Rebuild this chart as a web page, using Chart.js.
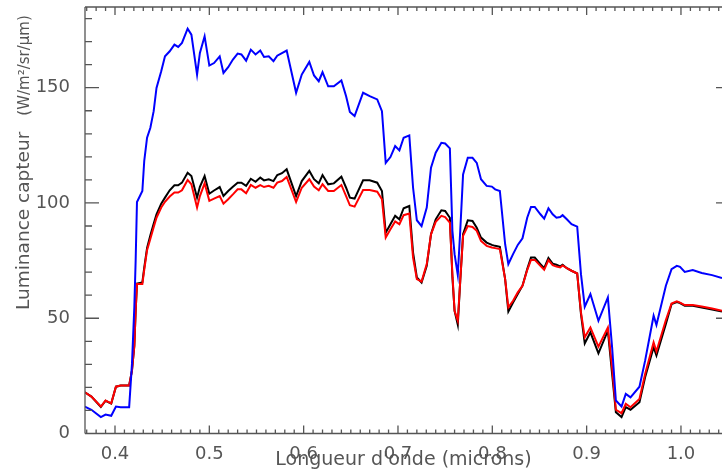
<!DOCTYPE html>
<html>
<head>
<meta charset="utf-8">
<title>Luminance capteur</title>
<script src="https://cdn.jsdelivr.net/npm/chart.js@4.4.1/dist/chart.umd.min.js"></script>
<style>
    body { margin: 0; background: #fff; overflow: hidden; }
    canvas { display: block; }
</style>
</head>
<body>
<canvas id="spectre" width="722" height="475"></canvas>
<script>
// Wavelengths (microns)
const longueurs = [
    0.368, 0.375, 0.385, 0.390, 0.396, 0.401, 0.406, 0.415, 0.418, 0.4205,
    0.4219, 0.4233, 0.429, 0.431, 0.434, 0.4375, 0.441, 0.444, 0.449, 0.453,
    0.458, 0.463, 0.467, 0.471, 0.477, 0.481, 0.487, 0.490, 0.495, 0.500,
    0.505, 0.511, 0.515, 0.520, 0.525, 0.530, 0.534, 0.539, 0.544, 0.549,
    0.554, 0.558, 0.563, 0.568, 0.572, 0.577, 0.582, 0.592, 0.598, 0.606,
    0.611, 0.616, 0.620, 0.626, 0.632, 0.640, 0.645, 0.649, 0.654, 0.663,
    0.670, 0.678, 0.683, 0.687, 0.692, 0.697, 0.7015, 0.706, 0.712, 0.716,
    0.720, 0.725, 0.7305, 0.735, 0.740, 0.746, 0.750, 0.755, 0.7577, 0.760,
    0.7634, 0.766, 0.769, 0.774, 0.779, 0.7835, 0.788, 0.794, 0.7995, 0.803,
    0.808, 0.8136, 0.817, 0.822, 0.827, 0.832, 0.837, 0.841, 0.845, 0.851,
    0.855, 0.8595, 0.864, 0.868, 0.872, 0.8745, 0.879, 0.884, 0.890, 0.894,
    0.898, 0.904, 0.9125, 0.9225, 0.927, 0.931, 0.937, 0.9415, 0.9465, 0.956,
    0.962, 0.971, 0.974, 0.984, 0.990, 0.9956, 0.999, 1.004, 1.0125, 1.022,
    1.033, 1.0435
];

// Sensor radiance, W/m2/sr/um
const lumBleu = [
    11.7, 10.3, 7.1, 8.2, 7.7, 11.7, 11.4, 11.4, 30.2, 55.0,
    75.0, 100.4, 105.2, 118.2, 128.3, 132.6, 139.8, 149.9, 157.1, 163.6,
    165.8, 168.7, 167.7, 169.4, 175.6, 173.0, 155.7, 165.1, 172.3, 159.6,
    160.7, 163.6, 156.4, 158.9, 162.2, 164.8, 164.4, 161.7, 166.5, 164.4,
    166.1, 163.3, 163.6, 161.5, 163.9, 165.0, 166.1, 147.8, 155.7, 161.2,
    155.3, 152.8, 156.7, 150.6, 150.6, 153.1, 146.3, 139.5, 137.7, 147.8,
    146.3, 144.9, 139.8, 117.4, 119.9, 124.7, 122.8, 128.3, 129.3, 106.6,
    92.5, 90.0, 98.0, 115.3, 121.8, 126.1, 125.8, 123.7, 87.9, 77.8,
    68.8, 87.9, 112.4, 119.6, 119.6, 117.4, 110.3, 107.4, 107.1, 105.9,
    105.2, 82.1, 73.5, 77.8, 81.8, 84.7, 93.6, 98.3, 98.3, 95.1,
    93.2, 97.7, 95.1, 93.6, 93.9, 94.7, 92.9, 90.8, 89.7, 69.1,
    55.0, 60.5, 48.9, 59.0, 37.4, 14.3, 11.7, 17.2, 15.7, 20.3,
    31.6, 51.1, 47.1, 64.1, 71.3, 72.7, 72.3, 70.1, 70.9, 69.6,
    68.7, 67.4
];

const lumRouge = [
    17.9, 16.0, 11.7, 14.3, 13.1, 20.3, 20.8, 20.8, 27.3, 38.1,
    53.2, 64.8, 64.8, 71.0, 79.5, 84.5, 89.5, 93.6, 98.0, 100.5,
    102.8, 104.5, 104.5, 105.5, 110.0, 108.1, 98.0, 103.0, 108.5, 100.9,
    101.9, 103.0, 99.7, 101.6, 103.7, 105.9, 105.9, 104.2, 107.8, 106.6,
    107.7, 106.9, 107.4, 106.6, 108.8, 109.5, 111.3, 100.4, 106.6, 110.3,
    107.1, 105.5, 108.1, 105.2, 105.2, 107.8, 103.0, 99.0, 98.4, 105.6,
    105.6, 104.9, 101.6, 85.0, 88.6, 92.0, 90.8, 94.7, 95.4, 76.3,
    67.0, 65.9, 73.5, 86.4, 91.8, 94.4, 93.9, 91.5, 69.1, 53.2,
    48.9, 66.2, 85.7, 90.0, 89.6, 87.9, 83.5, 81.4, 80.7, 80.4,
    80.0, 67.0, 54.7, 57.6, 61.2, 64.1, 70.9, 75.3, 75.3, 72.7,
    71.0, 75.2, 73.0, 72.4, 72.0, 72.9, 71.7, 70.6, 69.4, 52.5,
    41.7, 46.0, 37.7, 46.0, 28.7, 10.3, 8.8, 12.9, 11.4, 15.0,
    25.8, 39.5, 35.6, 49.2, 56.4, 57.3, 56.8, 55.7, 55.7, 55.1,
    54.2, 53.2
];

const lumNoir = [
    17.9, 16.0, 11.5, 14.2, 13.0, 20.3, 20.8, 20.8, 27.3, 38.0,
    53.0, 65.0, 65.5, 72.0, 80.5, 86.0, 91.0, 95.1, 99.7, 102.3,
    105.5, 107.7, 107.7, 108.8, 113.1, 111.7, 102.3, 107.0, 111.7, 104.0,
    105.4, 106.9, 103.0, 105.2, 107.0, 108.8, 108.8, 107.4, 110.5, 109.2,
    111.0, 109.8, 110.3, 109.5, 112.1, 112.9, 114.6, 103.0, 109.5, 113.9,
    110.3, 108.5, 112.1, 108.1, 108.5, 111.4, 106.6, 102.3, 101.9, 109.8,
    109.8, 108.8, 105.2, 87.1, 90.8, 94.4, 92.9, 97.7, 98.7, 78.5,
    67.7, 65.5, 72.7, 86.4, 92.9, 96.8, 96.5, 93.6, 67.7, 53.2,
    47.2, 66.2, 86.4, 92.5, 92.2, 89.3, 85.0, 82.8, 81.8, 81.4,
    81.0, 67.0, 52.9, 56.8, 60.5, 64.1, 71.3, 76.3, 76.3, 73.5,
    71.7, 76.1, 73.7, 73.2, 72.5, 73.2, 71.7, 70.6, 69.4, 51.8,
    39.1, 43.9, 34.8, 44.6, 25.8, 9.2, 7.1, 11.4, 10.3, 13.6,
    24.4, 37.4, 33.8, 47.5, 56.1, 57.0, 56.6, 55.4, 55.4, 54.7,
    53.8, 52.9
];

const xTicks = [0.4, 0.5, 0.6, 0.7, 0.8, 0.9, 1.0];
const yTicks = [0, 50, 100, 150];

const axisColor = '#555555';
const fontFamily = '"DejaVu Sans", sans-serif';

function toPoints(values) {
    return longueurs.map((w, i) => ({ x: w, y: values[i] }));
}

// IDL-style frame: box with inward ticks, minor ticks, y title with units
const idlFrame = {
    id: 'idlFrame',
    afterDraw(chart) {
        const ctx = chart.ctx;
        const xs = chart.scales.x;
        const ys = chart.scales.y;
        const a = chart.chartArea;
        const rightX = a.right + 8;

        ctx.save();
        ctx.strokeStyle = axisColor;
        ctx.lineWidth = 1.3;

        ctx.beginPath();
        ctx.moveTo(a.left, a.top);
        ctx.lineTo(rightX, a.top);
        ctx.moveTo(a.left, a.bottom);
        ctx.lineTo(rightX, a.bottom);
        ctx.moveTo(a.left, a.top);
        ctx.lineTo(a.left, a.bottom);
        ctx.moveTo(rightX, a.top);
        ctx.lineTo(rightX, a.bottom);

        // x ticks every 0.01, major every 0.1
        for (let k = 37; k <= 104; k++) {
            const px = xs.getPixelForValue(k / 100);
            const len = (k % 10 === 0) ? 8 : 4;
            ctx.moveTo(px, a.bottom);
            ctx.lineTo(px, a.bottom - len);
            ctx.moveTo(px, a.top);
            ctx.lineTo(px, a.top + len);
        }

        // y ticks every 10, major every 50
        for (let v = 0; v <= 180; v += 10) {
            const py = ys.getPixelForValue(v);
            const len = (v % 50 === 0) ? 14 : 7;
            ctx.moveTo(a.left, py);
            ctx.lineTo(a.left + len, py);
            ctx.moveTo(rightX, py);
            ctx.lineTo(rightX - len, py);
        }
        ctx.stroke();

        // y axis title, units in a smaller size
        ctx.fillStyle = axisColor;
        ctx.translate(29, 310);
        ctx.rotate(-Math.PI / 2);
        ctx.textBaseline = 'alphabetic';
        ctx.textAlign = 'left';
        ctx.font = '18.5px ' + fontFamily;
        const main = 'Luminance capteur';
        ctx.fillText(main, 0, 0);
        const w = ctx.measureText(main).width;
        ctx.font = '15px ' + fontFamily;
        ctx.fillText('(W/m\u00B2/sr/\u00B5m)', w + 16, 0);
        ctx.restore();
    }
};

const ctx = document.getElementById('spectre').getContext('2d');
const spectreChart = new Chart(ctx, {
    type: 'line',
    data: {
        datasets: [
            {
                label: 'bleu',
                data: toPoints(lumBleu),
                borderColor: '#0000ff',
                borderWidth: 2,
                pointRadius: 0,
                tension: 0
            },
            {
                label: 'rouge',
                data: toPoints(lumRouge),
                borderColor: '#ff0000',
                borderWidth: 2,
                pointRadius: 0,
                tension: 0
            },
            {
                label: 'noir',
                data: toPoints(lumNoir),
                borderColor: '#000000',
                borderWidth: 2,
                pointRadius: 0,
                tension: 0
            }
        ]
    },
    options: {
        responsive: false,
        animation: false,
        layout: { padding: { top: 7, right: 0, left: 0, bottom: 0 } },
        plugins: {
            legend: { display: false },
            tooltip: { enabled: false }
        },
        scales: {
            x: {
                type: 'linear',
                min: 0.3682,
                max: 1.0435,
                grid: { display: false },
                border: { display: false },
                afterFit: s => {
                    s.height = 41.5;
                    s.paddingLeft = 0;
                    s.paddingRight = 0;
                },
                afterBuildTicks: s => { s.ticks = xTicks.map(v => ({ value: v })); },
                ticks: {
                    color: axisColor,
                    font: { family: fontFamily, size: 18 },
                    padding: 2,
                    maxRotation: 0,
                    autoSkip: false,
                    callback: v => v.toFixed(1)
                },
                title: {
                    display: true,
                    text: "Longueur d'onde (microns)",
                    color: axisColor,
                    font: { family: fontFamily, size: 19 },
                    padding: { top: 0, bottom: 4 }
                }
            },
            y: {
                min: 0,
                max: 185,
                grid: { display: false },
                border: { display: false },
                afterFit: s => {
                    s.width = 85;
                    s.paddingTop = 0;
                    s.paddingBottom = 0;
                },
                afterBuildTicks: s => { s.ticks = yTicks.map(v => ({ value: v })); },
                ticks: {
                    color: axisColor,
                    font: { family: fontFamily, size: 18 },
                    padding: 7
                }
            }
        }
    },
    plugins: [idlFrame]
});
</script>
</body>
</html>
